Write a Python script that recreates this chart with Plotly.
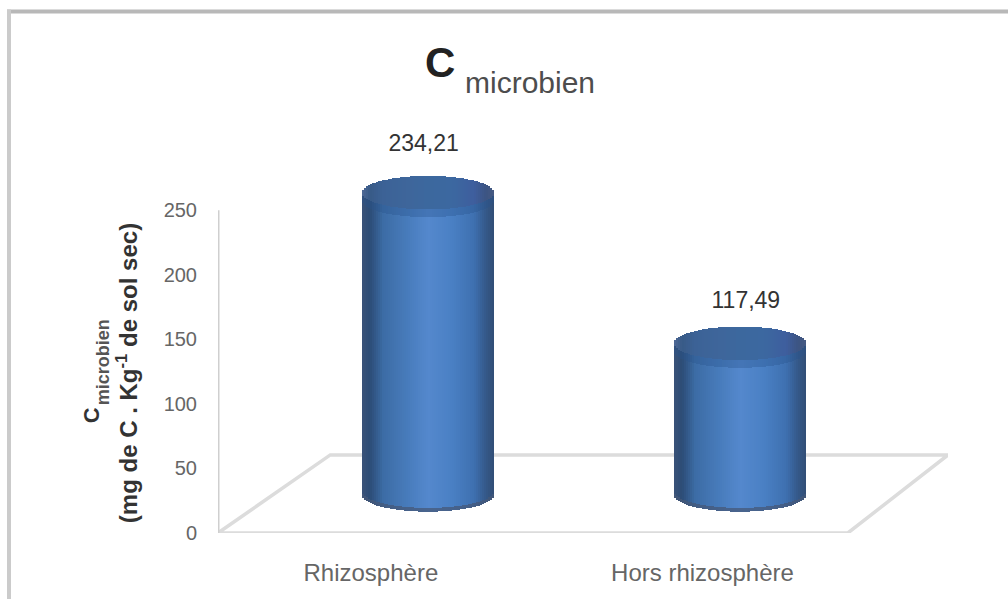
import numpy as np
import plotly.graph_objects as go

# Chart data
categories = ["Rhizosphère", "Hors rhizosphère"]
values = [234.21, 117.49]
value_labels = ["234,21", "117,49"]
y_ticks = [0, 50, 100, 150, 200, 250]

# Page and plot geometry
W, H = 1008, 599
LEFT, RIGHT, BOTTOM = 218, 948, 533
PX_PER_UNIT = 1.292
Y_TOP_VALUE = 320      # headroom above the last tick for the cylinder and its label
TOP = BOTTOM - Y_TOP_VALUE * PX_PER_UNIT
X_MIN, X_MAX = -0.673, 1.667
AXIS_END = 250
FONT = "Liberation Sans"

# Pseudo-3D settings, in axis units
DEPTH = 29.5           # how far the cylinders stand up from the front edge of the floor
CAP = 13.0             # half height of the elliptical ends
HALF_WIDTH = 0.2115    # half width of a cylinder
FLOOR_BACK = 60.5
FLOOR_SHIFT = 0.36
FLOOR_FRONT_END = 1.346
LABEL_LIFT = [36.5, 31.5]
LABEL_DX = [-0.014, 0.019]
TICK_POS = [-0.183, 0.88]

# Horizontal shading across a cylinder, edge to edge
STOPS = [0, 0.06, 0.16, 0.35, 0.5, 0.68, 0.85, 0.94, 1]
BODY_R = [58, 44, 60, 72, 84, 74, 62, 52, 50]
BODY_G = [82, 76, 108, 124, 136, 128, 112, 88, 78]
BODY_B = [120, 118, 165, 188, 205, 196, 176, 136, 118]
CAP_R = [80, 56, 60, 62, 60, 60, 62, 60, 70]
CAP_G = [105, 90, 98, 102, 104, 104, 94, 84, 90]
CAP_B = [150, 135, 150, 155, 158, 160, 158, 130, 130]


def shade(t, r, g, b):
    u = (t + 1) / 2
    return "rgb({:.0f},{:.0f},{:.0f})".format(
        np.interp(u, STOPS, r), np.interp(u, STOPS, g), np.interp(u, STOPS, b)
    )


def px_x(px):
    return (px - LEFT) / (RIGHT - LEFT)


def px_y(py):
    return 1 - (py - TOP) / (BOTTOM - TOP)


def strips(x, height, base, width, color):
    return go.Bar(
        x=x, y=height, base=base, width=width,
        marker=dict(color=color, line_width=0),
        cliponaxis=False, hoverinfo="skip", showlegend=False,
    )


def cylinder(center, value):
    """One cylinder as a fan of thin bars: body, shaded bands, then the lid."""
    n = 66
    t = (np.arange(n) + 0.5) / n * 2 - 1
    x = center + t * HALF_WIDTH
    arc = CAP * np.sqrt(1 - t ** 2)
    w = 2 * HALF_WIDTH / n * 1.15
    top = DEPTH + value
    return [
        strips(x, value + arc, DEPTH - arc, w, [shade(v, BODY_R, BODY_G, BODY_B) for v in t]),
        strips(x, np.full(n, 3.0), DEPTH - arc, w, "rgba(70,88,120,0.75)"),
        strips(x, np.full(n, 6.0), top - arc - 6, w, "rgba(40,84,140,0.35)"),
        strips(x, 2 * arc, top - arc, w, [shade(v, CAP_R, CAP_G, CAP_B) for v in t]),
    ]


fig = go.Figure()

# Cylinders
for i, val in enumerate(values):
    for trace in cylinder(i, val):
        fig.add_trace(trace)

# Value labels above the cylinders
fig.add_trace(go.Scatter(
    x=[i + LABEL_DX[i] for i in range(len(values))],
    y=[DEPTH + v + LABEL_LIFT[i] for i, v in enumerate(values)],
    mode="text", text=value_labels, textposition="middle center",
    textfont=dict(family=FONT, size=23, color="#333333"),
    cliponaxis=False, hoverinfo="skip", showlegend=False,
))

annotations = [
    dict(text="<b>C</b>", x=px_x(440), y=px_y(62), font=dict(family=FONT, size=42, color="#222222")),
    dict(text="microbien", x=px_x(530), y=px_y(82), font=dict(family=FONT, size=30, color="#4d4d4d")),
    dict(text="<b>C</b>", x=px_x(91), y=px_y(415), textangle=-90, font=dict(family=FONT, size=22, color="#333333")),
    dict(text="<b>microbien</b>", x=px_x(103), y=px_y(362), textangle=-90, font=dict(family=FONT, size=18, color="#555555")),
    dict(text="<b>(mg de C . Kg<sup>-1</sup> de sol sec)</b>", x=px_x(127), y=px_y(373), textangle=-90,
         font=dict(family=FONT, size=24, color="#333333")),
]
for a in annotations:
    a.update(xref="paper", yref="paper", showarrow=False, xanchor="center", yanchor="middle")

floor_path = "M {} 0 L {} {} L {} {} L {} 0 Z".format(
    X_MIN, X_MIN + FLOOR_SHIFT, FLOOR_BACK, X_MAX, FLOOR_BACK, FLOOR_FRONT_END
)
shapes = [
    # Floor of the 3D scene, behind the cylinders
    dict(type="path", xref="x", yref="y", path=floor_path, layer="below",
         line=dict(color="#dcdcdc", width=3.5)),
    # Value axis line, stopping at the last tick
    dict(type="line", xref="x", yref="y", x0=X_MIN, x1=X_MIN, y0=0, y1=AXIS_END, layer="below",
         line=dict(color="#cfcfcf", width=3)),
    # Outer frame along the top and left edges of the chart area
    dict(type="line", xref="paper", yref="paper", x0=px_x(7), x1=px_x(W), y0=px_y(11), y1=px_y(11),
         line=dict(color="#b8b8b8", width=4)),
    dict(type="line", xref="paper", yref="paper", x0=px_x(9), x1=px_x(9), y0=px_y(9), y1=px_y(H),
         line=dict(color="#cbcbcb", width=4)),
]

fig.update_layout(
    width=W, height=H, autosize=False,
    margin=dict(l=LEFT, r=W - RIGHT, t=TOP, b=H - BOTTOM, pad=0),
    paper_bgcolor="white", plot_bgcolor="white",
    barmode="overlay", bargap=0, showlegend=False,
    annotations=annotations, shapes=shapes,
    xaxis=dict(
        range=[X_MIN, X_MAX], showgrid=False, zeroline=False, showline=False, ticks="",
        tickmode="array", tickvals=TICK_POS, ticktext=categories,
        tickfont=dict(family=FONT, size=24, color="#666666"), ticklabelstandoff=23,
    ),
    yaxis=dict(
        range=[0, Y_TOP_VALUE], showgrid=False, zeroline=False, showline=False,
        ticks="", tickmode="array", tickvals=y_ticks,
        tickfont=dict(family=FONT, size=20, color="#666666"), ticklabelstandoff=20,
    ),
)

fig.write_html("out.html", config={"displayModeBar": False})
